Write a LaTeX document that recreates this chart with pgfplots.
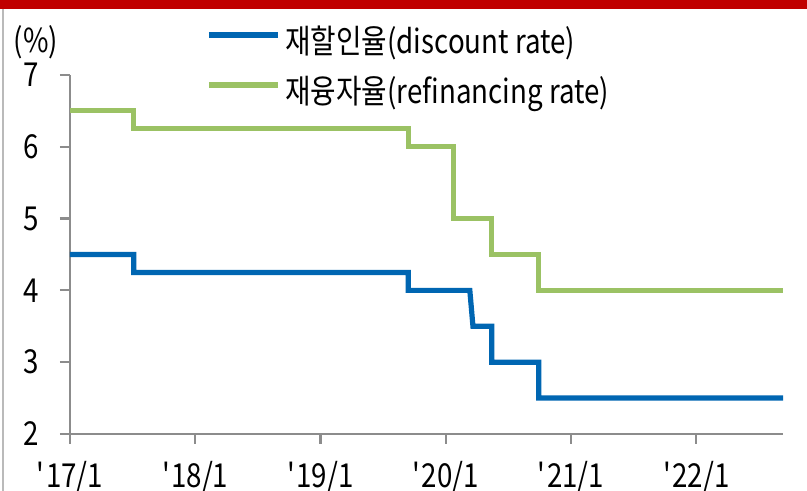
\documentclass[border=0pt]{standalone}
\usepackage{pgfplots}
\pgfplotsset{compat=1.18}
\usepackage{fontspec}
\setmainfont{Noto Sans CJK KR}[FakeStretch=0.84]
\definecolor{barred}{RGB}{192,0,0}
\definecolor{dblue}{RGB}{0,102,178}
\definecolor{lgreen}{RGB}{155,194,100}
\definecolor{axgray}{RGB}{140,140,140}
\begin{document}
\fontsize{16.5pt}{19pt}\selectfont
\begin{tikzpicture}
\useasboundingbox (-35pt,-28.5pt) rectangle (368.5pt,217pt);
\fill[barred] (-35pt,212.5pt) rectangle (368.5pt,217pt);
\draw[axgray!60, line width=0.8pt] (-33.5pt,-28.5pt) -- (-33.5pt,212.5pt);
\begin{axis}[
  scale only axis,
  width=356.5pt, height=179.5pt,
  xmin=0, xmax=68.3, ymin=2, ymax=7,
  axis lines=left,
  axis line style={-, axgray, line width=1.1pt},
  xtick={0,12,24,36,48,60},
  xticklabels={\textquotesingle17/1,\textquotesingle18/1,\textquotesingle19/1,\textquotesingle20/1,\textquotesingle21/1,\textquotesingle22/1},
  ytick={2,3,4,5,6,7},
  tick align=outside,
  major tick length=5pt,
  tick style={axgray, line width=1.1pt},
  /pgf/number format/assume math mode=true,
  ticklabel style={font=\fontsize{16.5pt}{19pt}\selectfont},
  yticklabel style={xshift=-5pt},
  xticklabel style={yshift=-3pt},
  legend style={at={(0.1905,1.1265)}, anchor=north west, draw=none, fill=none,
    inner sep=0pt, row sep=9pt,
    nodes={inner sep=0pt, text height=12pt, text depth=4pt, font=\fontsize{16.5pt}{19pt}\selectfont}},
  legend cell align=left,
  legend image code/.code={\draw[#1] (0pt,5.5pt) -- (34.5pt,5.5pt);},
  clip=false,
]
\addplot[dblue, line width=2.6pt, line join=miter] coordinates {
 (0,4.5) (6.1,4.5) (6.1,4.25) (32.4,4.25) (32.4,4) (38.3,4) (38.6,3.5)
 (40.4,3.5) (40.4,3) (44.9,3) (44.9,2.5) (68.3,2.5)};
\addlegendentry{\hspace{2.5pt}재할인율(discount rate)}
\addplot[lgreen, line width=2.6pt, line join=miter] coordinates {
 (0,6.5) (6.1,6.5) (6.1,6.25) (32.4,6.25) (32.4,6) (36.7,6) (36.7,5)
 (40.4,5) (40.4,4.5) (44.9,4.5) (44.9,4) (68.3,4)};
\addlegendentry{\hspace{2.5pt}재융자율(refinancing rate)}
\node at (rel axis cs:0,0) [xshift=-17pt, yshift=196pt] {(\%)};
\end{axis}
\end{tikzpicture}
\end{document}
